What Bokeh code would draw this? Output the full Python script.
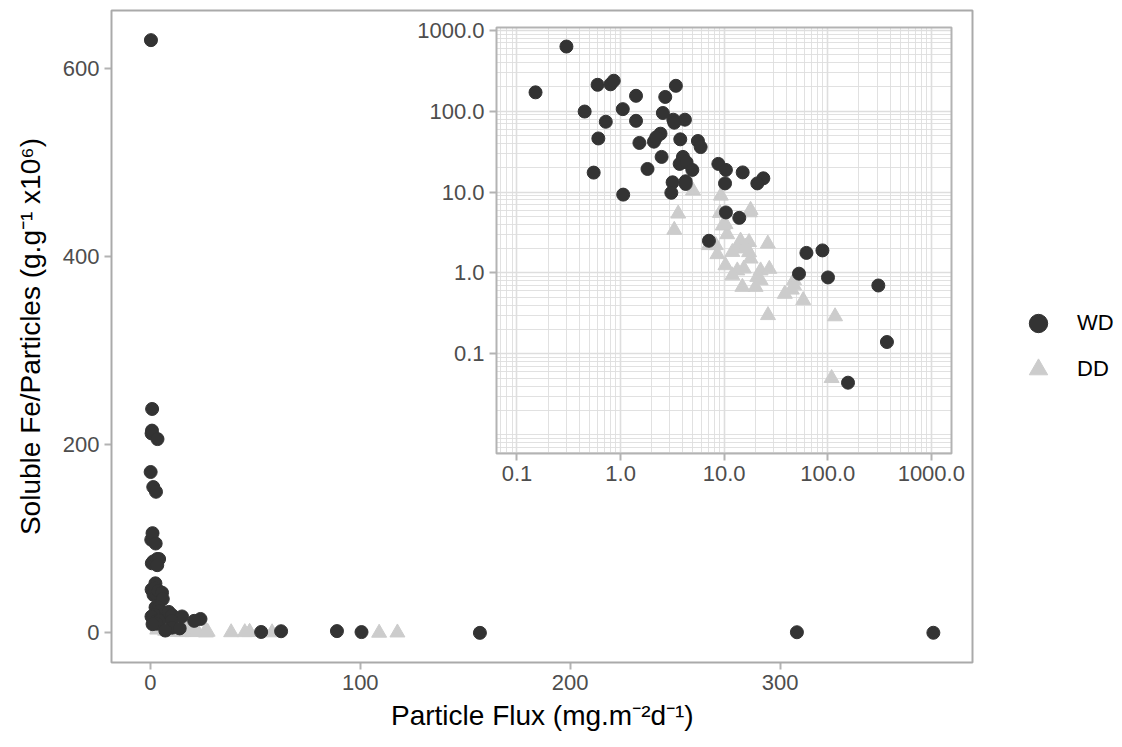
import math
from bokeh.plotting import figure
from bokeh.models import (Range1d, LogScale, LogAxis, FixedTicker, NumeralTickFormatter,
                          Grid, BoxAnnotation, Legend, LegendItem, Title)
from bokeh.embed import file_html
from bokeh.resources import INLINE

# ---------------- data ----------------
series = ["WD", "DD"]

wd_flux = [0.30, 0.151, 0.60, 0.80, 0.86, 3.42, 1.41, 2.70, 0.45, 1.05,
           2.56, 0.72, 1.41, 3.23, 4.18, 3.30, 0.61, 1.52, 2.10, 2.43,
           2.21, 3.77, 5.58, 5.93, 2.49, 4.00, 3.72, 4.34, 4.93, 1.82,
           0.55, 3.18, 4.25, 4.25, 3.09, 1.06, 8.79, 10.4, 15.1, 23.9,
           20.9, 10.2, 10.4, 14.0, 7.13, 62.3, 88.9, 52.8, 100.6, 308.0,
           373.0, 157.0]
wd_fe = [630.0, 171.0, 212.0, 215.0, 238.0, 206.0, 155.0, 150.0, 99.0, 106.0,
         95.0, 74.0, 76.0, 78.5, 78.5, 72.0, 46.0, 40.5, 42.0, 52.7,
         47.5, 44.9, 42.8, 36.0, 27.2, 27.2, 22.3, 23.3, 18.8, 19.3,
         17.4, 13.2, 13.6, 12.6, 9.8, 9.3, 22.3, 18.8, 17.5, 14.8,
         12.8, 12.8, 5.6, 4.8, 2.5, 1.77, 1.90, 0.98, 0.88, 0.70,
         0.14, 0.044]

dd_flux = [5.0, 9.3, 3.6, 3.3, 9.1, 18.0, 17.7, 10.3, 10.7, 14.4,
           17.4, 26.4, 7.1, 8.6, 13.4, 17.4, 18.0, 10.3, 13.4, 12.0,
           15.5, 22.5, 27.3, 20.9, 15.0, 20.1, 38.5, 47.3, 47.3, 58.0,
           26.5, 117.7, 109.0, 8.3, 9.7, 12.0, 16.1, 22.5, 45.0]
dd_fe = [10.4, 9.0, 5.4, 3.4, 5.5, 6.0, 5.6, 4.0, 3.0, 2.5,
         2.4, 2.3, 2.2, 1.7, 2.0, 1.8, 1.5, 1.24, 1.07, 0.93,
         1.13, 1.07, 1.12, 0.89, 0.67, 0.67, 0.55, 0.70, 0.81, 0.46,
         0.30, 0.29, 0.050, 2.2, 3.85, 1.81, 2.1, 0.81, 0.62]

main_x_ticks = [0, 100, 200, 300]
main_y_ticks = [0, 200, 400, 600]
inset_ticks = [0.1, 1, 10, 100, 1000]
inset_x_limits = (0.0634, 1567.0)
inset_y_limits = (0.00586, 1083.0)
x_title = "Particle Flux (mg.m\u207b\u00b2d\u207b\u00b9)"
y_title = "Soluble Fe/Particles (g.g\u207b\u00b9 x10\u2076)"

# ---------------- styling / layout constants (pixels) ----------------
FONT = "Liberation Sans"
WD_COLOR = "#333333"
DD_COLOR = "#cccccc"
BORDER = "#b3b3b3"
TICK_TEXT = "#4d4d4d"
GRID = "#dedede"

W, H = 1120, 739
PAN_L, PAN_R, PAN_T, PAN_B = 111, 972, 10, 662      # main panel box
INS_L, INS_R, INS_T, INS_B = 496, 951, 27, 453      # inset box
PAD = 3
FR_L, FR_R, FR_T, FR_B = PAN_L - PAD, W, PAN_T - PAD, PAN_B + PAD   # bokeh frame
FW, FH = FR_R - FR_L, FR_B - FR_T

# ---------------- main ranges (ggplot-like 5% expansion) ----------------
allx = wd_flux + dd_flux
ally = wd_fe + dd_fe
xlo, xhi = min(allx), max(allx)
ylo, yhi = min(ally), max(ally)
ax0, ax1 = xlo - 0.05 * (xhi - xlo), xhi + 0.05 * (xhi - xlo)
ay0, ay1 = ylo - 0.05 * (yhi - ylo), yhi + 0.05 * (yhi - ylo)
kx = (PAN_R - PAN_L) / (ax1 - ax0)
ky = (PAN_B - PAN_T) / (ay1 - ay0)
x_range = Range1d(ax0 - (PAN_L - FR_L) / kx, ax0 + (FR_R - PAN_L) / kx)
y_range = Range1d(ay0 - (FR_B - PAN_B) / ky, ay1 + (PAN_T - FR_T) / ky)

p = figure(width=W, height=H, output_backend="svg", toolbar_location=None,
           x_range=x_range, y_range=y_range,
           min_border_left=FR_L, min_border_right=0, min_border_top=FR_T,
           min_border_bottom=H - FR_B)

p.outline_line_color = None
p.background_fill_color = "white"
p.border_fill_color = "white"
p.xgrid.visible = False
p.ygrid.visible = False

panel_box = BoxAnnotation(left=ax0, right=ax1, bottom=ay0, top=ay1,
                          fill_alpha=0, line_color="#aaaaaa", line_width=2, line_alpha=1)
p.add_layout(panel_box)

xa = p.below[0]
ya = p.left[0]
xa.ticker = FixedTicker(ticks=main_x_ticks)
ya.ticker = FixedTicker(ticks=main_y_ticks)
xa.bounds = (ax0, ax1)
ya.bounds = (ay0, ay1)
ya.axis_label = y_title
for ax in (xa, ya):
    ax.axis_line_color = None
    ax.major_tick_line_color = BORDER
    ax.major_tick_line_width = 2
    ax.major_tick_out = 7 - PAD
    ax.major_tick_in = PAD
    ax.minor_tick_line_color = None
    ax.major_label_text_font = FONT
    ax.major_label_text_font_size = "22px"
    ax.major_label_text_color = TICK_TEXT
    ax.major_label_standoff = 5
    ax.axis_label_text_font = FONT
    ax.axis_label_text_font_size = "28px"
    ax.axis_label_text_font_style = "normal"
    ax.axis_label_text_color = "black"
ya.axis_label_standoff = 14

# x title centred under the main panel (the frame extends to the legend area)
XT_CENTER, XT_WIDTH = (PAN_L + PAN_R) / 2, 302
xt = Title(text=x_title, align="left", offset=XT_CENTER - XT_WIDTH / 2 - FR_L,
           text_font=FONT, text_font_size="28px", text_font_style="normal",
           text_color="black", standoff=11)
p.add_layout(xt, "below")

# ---------------- main scatter ----------------
p.scatter(dd_flux, dd_fe, marker="triangle", size=15, color=DD_COLOR)
p.scatter(wd_flux, wd_fe, marker="circle", size=13, color=WD_COLOR)

# ---------------- inset (log-log) via extra ranges ----------------
lx0, lx1 = math.log10(inset_x_limits[0]), math.log10(inset_x_limits[1])
ly0, ly1 = math.log10(inset_y_limits[0]), math.log10(inset_y_limits[1])
dpx = (lx1 - lx0) / (INS_R - INS_L)          # log units per pixel
dpy = (ly1 - ly0) / (INS_B - INS_T)
ex0 = lx0 - (INS_L - FR_L) * dpx
ex1 = lx1 + (FR_R - INS_R) * dpx
ey0 = ly0 - (FR_B - INS_B) * dpy
ey1 = ly1 + (INS_T - FR_T) * dpy

p.extra_x_ranges = {"lx": Range1d(10 ** ex0, 10 ** ex1)}
p.extra_y_ranges = {"ly": Range1d(10 ** ey0, 10 ** ey1)}
p.extra_x_scales = {"lx": LogScale()}
p.extra_y_scales = {"ly": LogScale()}


def minor_ticks(lo, hi):
    out = []
    for e in range(-4, 5):
        for k in range(1, 10):
            v = k * 10 ** e
            if lo < v < hi and not any(abs(v - t) < 1e-12 for t in inset_ticks):
                out.append(v)
    return out


xminor = minor_ticks(*inset_x_limits)
yminor = minor_ticks(*inset_y_limits)
xmajor = [t for t in inset_ticks if inset_x_limits[0] < t < inset_x_limits[1]]
ymajor = [t for t in inset_ticks if inset_y_limits[0] < t < inset_y_limits[1]]

gx = Grid(dimension=0, x_range_name="lx", y_range_name="ly",
          ticker=FixedTicker(ticks=xmajor, minor_ticks=xminor),
          bounds=inset_x_limits, cross_bounds=inset_y_limits,
          grid_line_color=GRID, grid_line_width=1.6,
          minor_grid_line_color=GRID, minor_grid_line_width=0.9)
gy = Grid(dimension=1, x_range_name="lx", y_range_name="ly",
          ticker=FixedTicker(ticks=ymajor, minor_ticks=yminor),
          bounds=inset_y_limits, cross_bounds=inset_x_limits,
          grid_line_color=GRID, grid_line_width=1.6,
          minor_grid_line_color=GRID, minor_grid_line_width=0.9)
p.add_layout(gx)
p.add_layout(gy)

r_dd = p.scatter(dd_flux, dd_fe, marker="triangle", size=15, color=DD_COLOR,
                 x_range_name="lx", y_range_name="ly")
r_wd = p.scatter(wd_flux, wd_fe, marker="circle", size=13, color=WD_COLOR,
                 x_range_name="lx", y_range_name="ly")

box = BoxAnnotation(left=inset_x_limits[0], right=inset_x_limits[1],
                    bottom=inset_y_limits[0], top=inset_y_limits[1],
                    x_range_name="lx", y_range_name="ly",
                    fill_alpha=0, line_color=BORDER, line_width=2, line_alpha=1)
p.add_layout(box)


def style_inset_axis(ax):
    ax.axis_line_color = None
    ax.major_tick_line_color = BORDER
    ax.major_tick_line_width = 2
    ax.major_tick_out = 7
    ax.major_tick_in = 0
    ax.minor_tick_line_color = None
    ax.major_label_text_font = FONT
    ax.major_label_text_font_size = "22px"
    ax.major_label_text_color = TICK_TEXT
    ax.major_label_standoff = 5


iax = LogAxis(x_range_name="lx", y_range_name="ly", fixed_location=inset_y_limits[0],
              bounds=inset_x_limits, ticker=FixedTicker(ticks=xmajor),
              formatter=NumeralTickFormatter(format="0.0"))
iay = LogAxis(x_range_name="lx", y_range_name="ly", fixed_location=inset_x_limits[0],
              bounds=inset_y_limits, ticker=FixedTicker(ticks=ymajor),
              formatter=NumeralTickFormatter(format="0.0"))
style_inset_axis(iax)
style_inset_axis(iay)
p.add_layout(iax, "below")
p.add_layout(iay, "left")

# ---------------- legend (inside the frame, right of the panel) ----------------
LEG_GLYPH_LEFT, LEG_BOTTOM = 1015, 392
legend = Legend(items=[LegendItem(label=series[0], renderers=[r_wd]),
                       LegendItem(label=series[1], renderers=[r_dd])],
                location=(LEG_GLYPH_LEFT - FR_L, FR_B - LEG_BOTTOM), orientation="vertical",
                glyph_width=46, glyph_height=46, label_height=46,
                label_standoff=16, spacing=0, padding=0, margin=0,
                border_line_color=None, background_fill_alpha=0,
                label_text_font=FONT, label_text_font_size="22px",
                label_text_color="black")
p.add_layout(legend)

open("out.html", "w").write(file_html(p, INLINE))
